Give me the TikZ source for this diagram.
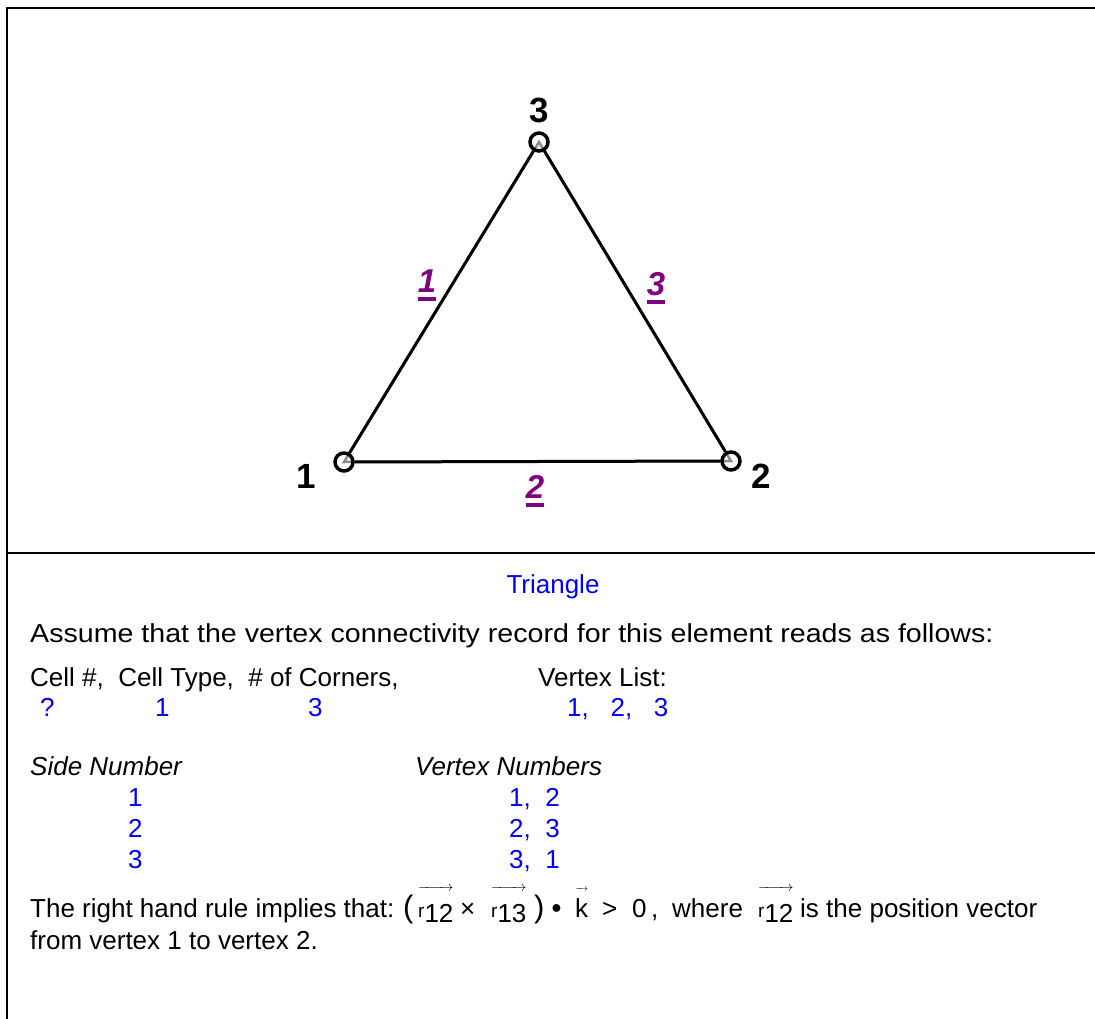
\documentclass[tikz,border=0pt]{standalone}
\usepackage{fontspec}
\setmainfont{Liberation Sans}
\usetikzlibrary{positioning,backgrounds}
\definecolor{valuecolor}{RGB}{0,0,255}
\definecolor{sidecolor}{RGB}{128,0,128}
\definecolor{innercolor}{RGB}{140,140,140}
\newcommand{\sidenum}[1]{\setbox0\hbox{#1}\rlap{\rule[-9pt]{\wd0}{4pt}}\box0}
\newcommand{\posvec}[1]{\setbox0\hbox{\fontsize{19}{22}\selectfont r\fontsize{26}{30}\selectfont\raisebox{-5pt}{#1}}%
  \rlap{\raisebox{26pt}{\hbox to \wd0{\fontsize{14}{16}\selectfont\rightarrowfill}}}\box0}
\newcommand{\kvec}{\setbox0\hbox{k}%
  \rlap{\raisebox{26pt}{\hbox to \wd0{\fontsize{10}{12}\selectfont\rightarrowfill}}}\box0}
\tikzset{
vertex/.style={
  circle,
  draw,
  line width=3.5pt,
  minimum size=18pt,
  inner sep=0pt
},
edge/.style={
  line width=3pt
},
inneredge/.style={
  draw=innercolor,
  line width=2.5pt
},
vertexlabel/.style={
  font=\fontsize{35}{40}\selectfont\bfseries,
  anchor=base,
  inner sep=0pt
},
sidelabel/.style={
  font=\fontsize{33}{38}\selectfont\bfseries\itshape,
  text=sidecolor,
  anchor=base,
  inner sep=0pt
},
bodytext/.style={
  font=\fontsize{26}{31}\selectfont,
  anchor=base west,
  inner sep=0pt
},
valuetext/.style={
  bodytext,
  text=valuecolor
},
headtext/.style={
  bodytext,
  font=\fontsize{26}{31}\selectfont\itshape
},
framerule/.style={
  line width=2.5pt
}
}

\begin{document}
\begin{tikzpicture}[x=1pt,y=-1pt]
  \useasboundingbox (0,0) rectangle (1095,1019);
  % frame
  \draw[framerule] (1095,8) -- (7,8) -- (7,1019);
  \draw[framerule] (7,553) -- (1095,553);

  % triangle
  \node[vertex] (v1) at (344,462) {};
  \node[vertex] (v2) at (731,461) {};
  \node[vertex] (v3) at (539,142) {};
  \begin{scope}[on background layer]
    \draw[inneredge] (v1.center) -- (v2.center) -- (v3.center) -- cycle;
  \end{scope}
  \draw[edge] (v1) -- (v2);
  \draw[edge] (v2) -- (v3);
  \draw[edge] (v3) -- (v1);

  \node[vertexlabel] (n1) at (306,488) {1};
  \node[vertexlabel] (n2) at (761,488) {2};
  \node[vertexlabel] (n3) at (539,123) {3};

  \node[sidelabel] (s1) at (427,292) {\sidenum{1}};
  \node[sidelabel] (s2) at (535,498) {\sidenum{2}};
  \node[sidelabel] (s3) at (656,295) {\sidenum{3}};

  % record
  \node[valuetext, anchor=base] (title) at (553,593) {Triangle};
  \node[bodytext] (assume) at (30,642) {\scalebox{1.1}[1]{Assume that the vertex connectivity record for this element reads as follows:}};
  \node[bodytext] (cellhead) at (30,686) {Cell \#,\ \ Cell Type,\ \ \# of Corners,};
  \node[bodytext] (listhead) at (538,686) {Vertex List:};
  \node[valuetext] (cellno) at (40,716) {?};
  \node[valuetext] (celltype) at (155,716) {1};
  \node[valuetext] (corners) at (308,716) {3};
  \node[valuetext] (vlist) at (567,716) {1,\ \ \ 2,\ \ \ 3};

  \node[headtext] (sidehead) at (30,775) {Side Number};
  \node[headtext] (vnumhead) at (415,775) {Vertex Numbers};
  \foreach \s/\a/\b [count=\i] in {1/1/2, 2/2/3, 3/3/1} {
    \node[valuetext] (side\i) at (128,775+31*\i) {\s};
    \node[valuetext] (pair\i) at (509,775+31*\i) {\a,\ \ \b};
  }

  % right hand rule
  \node[bodytext] (rule) at (30,917) {The right hand rule implies that:};
  \node[bodytext, font=\fontsize{31}{34}\selectfont] (lpar) at (403,917) {(};
  \node[bodytext] (r12) at (418,917) {\posvec{12}};
  \node[bodytext] (cross) at (460,917) {×};
  \node[bodytext] (r13) at (491,917) {\posvec{13}};
  \node[bodytext, font=\fontsize{31}{34}\selectfont] (rpar) at (534,917) {)};
  \node[bodytext, font=\fontsize{18}{20}\selectfont] (dot) at (551,913) {●};
  \node[bodytext] (kk) at (575,917) {\kvec};
  \node[bodytext] (gt) at (602,917) {>};
  \node[bodytext] (zero) at (632,917) {0};
  \node[bodytext] (comma) at (651,917) {,};
  \node[bodytext] (where) at (672,917) {where};
  \node[bodytext] (r12b) at (758,917) {\posvec{12}};
  \node[bodytext] (posvec) at (800,917) {is the position vector};
  \node[bodytext] (ruleend) at (30,949) {from vertex 1 to vertex 2.};
\end{tikzpicture}
\end{document}
